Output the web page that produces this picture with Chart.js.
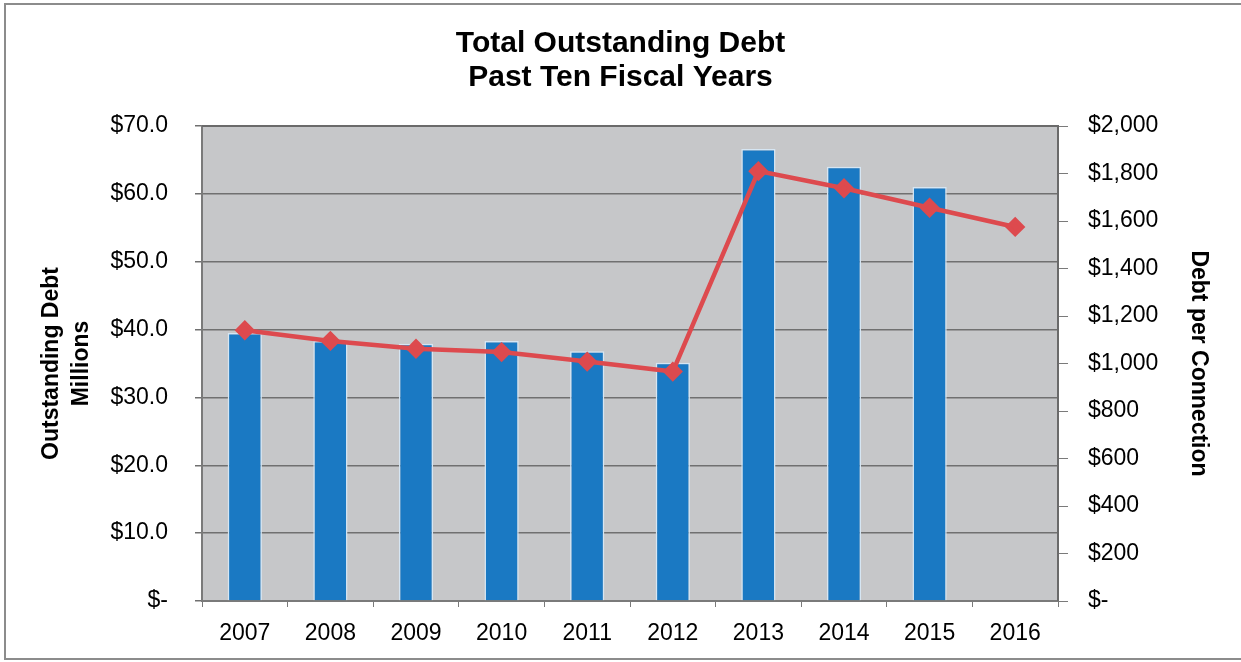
<!DOCTYPE html>
<html>
<head>
<meta charset="utf-8">
<script src="https://cdn.jsdelivr.net/npm/chart.js@4"></script>
<style>
  body { margin: 0; background: #fff; }
  #wrap { position: relative; width: 1241px; height: 662px; overflow: hidden; }
  #frame { position: absolute; left: 4px; top: 3px; width: 1300px; height: 653px;
           border: 2px solid #8c8c8c; pointer-events: none; }
</style>
</head>
<body>
<div id="wrap">
  <canvas id="myChart" width="1241" height="662"></canvas>
  <div id="frame"></div>
</div>
<script>
// fiscal years
const years = ['2007', '2008', '2009', '2010', '2011', '2012', '2013', '2014', '2015', '2016'];
// outstanding debt, $ millions (no bar shown for 2016)
const debtMillions = [39.5, 38.3, 37.9, 38.3, 36.8, 35.1, 66.6, 64.0, 61.0, null];
// debt per connection, $
const debtPerConnection = [1140, 1095, 1062, 1048, 1008, 966, 1810, 1738, 1656, 1575];

const fontFamily = '"Liberation Sans", Arial, sans-serif';

// grey plot background + frame around plot area
const plotBg = {
    id: 'plotBg',
    beforeDraw(chart) {
        const a = chart.chartArea;
        const ctx = chart.ctx;
        ctx.save();
        ctx.fillStyle = '#c6c7c9';
        ctx.fillRect(a.left, a.top, a.right - a.left, a.bottom - a.top);
        ctx.restore();
    },
    afterDraw(chart) {
        const a = chart.chartArea;
        const ctx = chart.ctx;
        ctx.save();
        ctx.strokeStyle = '#6a6a6a';
        ctx.lineWidth = 2;
        ctx.beginPath();
        ctx.moveTo(a.left, a.top);
        ctx.lineTo(a.right, a.top);
        ctx.lineTo(a.right, a.bottom);
        ctx.stroke();
        ctx.restore();
    }
};

document.addEventListener('DOMContentLoaded', function() {
    const ctx = document.getElementById('myChart');
    const myChart = new Chart(ctx, {
        data: {
            labels: years,
            datasets: [{
                type: 'line',
                data: debtPerConnection,
                yAxisID: 'y1',
                borderColor: '#dd4a4e',
                backgroundColor: '#dd4a4e',
                borderWidth: 4.5,
                pointStyle: 'rectRot',
                pointRadius: 7,
                tension: 0,
                order: 0
            }, {
                type: 'bar',
                data: debtMillions,
                yAxisID: 'y',
                backgroundColor: '#1a79c3',
                borderColor: '#d6e6f3',
                borderWidth: 1.5,
                barPercentage: 0.4,
                categoryPercentage: 1.0,
                order: 1
            }]
        },
        options: {
            responsive: false,
            animation: false,
            layout: {padding: 0},
            plugins: {
                legend: {display: false},
                tooltip: {enabled: false},
                title: {
                    display: true,
                    text: ['Total Outstanding Debt', 'Past Ten Fiscal Years'],
                    color: '#000',
                    font: {family: fontFamily, size: 30, weight: 'bold', lineHeight: 1.15},
                    padding: {top: 26, bottom: 31}
                }
            },
            scales: {
                x: {
                    grid: {drawOnChartArea: false, offset: true, tickLength: 6, color: '#7a7a7a'},
                    border: {color: '#7a7a7a', width: 2},
                    ticks: {color: '#000', padding: 13, font: {family: fontFamily, size: 23}},
                    afterFit: function(scale) { scale.height = 61; }
                },
                y: {
                    position: 'left',
                    min: 0,
                    max: 70,
                    grid: {color: '#707070', lineWidth: 1.5, tickLength: 7},
                    border: {color: '#7a7a7a', width: 2},
                    ticks: {
                        stepSize: 10,
                        color: '#000',
                        padding: 27,
                        font: {family: fontFamily, size: 23},
                        callback: function(v) { return v === 0 ? '$-' : '$' + v.toFixed(1); }
                    },
                    title: {
                        display: true,
                        text: ['Outstanding Debt', 'Millions'],
                        color: '#000',
                        font: {family: fontFamily, size: 23, weight: 'bold', lineHeight: 1.3},
                        padding: {top: 37, bottom: 0}
                    },
                    afterFit: function(scale) { scale.width = 202; }
                },
                y1: {
                    position: 'right',
                    min: 0,
                    max: 2000,
                    grid: {drawOnChartArea: false, tickLength: 10, color: '#7a7a7a'},
                    border: {color: '#7a7a7a', width: 2},
                    ticks: {
                        stepSize: 200,
                        color: '#000',
                        padding: 20,
                        font: {family: fontFamily, size: 23},
                        callback: function(v) { return v === 0 ? '$-' : '$' + v.toLocaleString('en-US'); }
                    },
                    title: {
                        display: true,
                        text: 'Debt per Connection',
                        color: '#000',
                        font: {family: fontFamily, size: 23, weight: 'bold', lineHeight: 1.3},
                        padding: {top: 28, bottom: 0}
                    },
                    afterFit: function(scale) { scale.width = 183; }
                }
            }
        },
        plugins: [plotBg]
    });
});
</script>
</body>
</html>
